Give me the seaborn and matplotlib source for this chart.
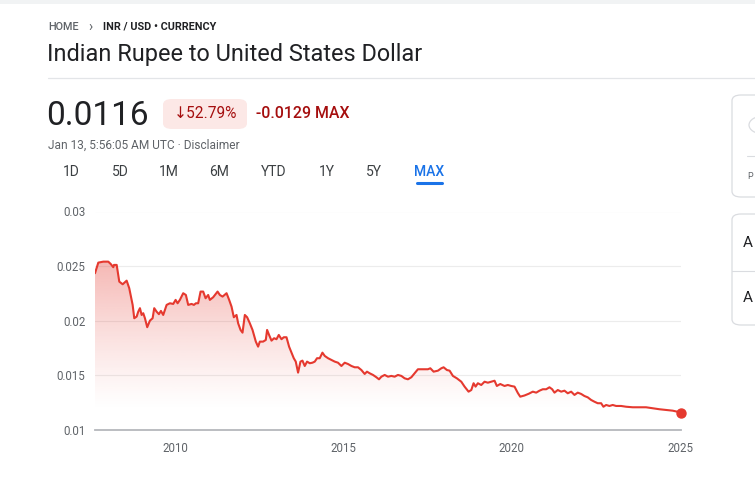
import numpy as np
import pandas as pd
import seaborn as sns
import matplotlib.pyplot as plt
from matplotlib.patches import FancyBboxPatch, Circle, Rectangle
from matplotlib.lines import Line2D

sns.set_theme(style="white")
plt.rcParams["font.family"] = ["Roboto", "DejaVu Sans"]

# INR/USD rate (decimal year, rate)
years = [
    2007.627, 2007.725, 2007.873, 2008.021, 2008.093, 2008.170, 2008.190, 2008.271,
    2008.348, 2008.449, 2008.567, 2008.644, 2008.745, 2008.793, 2008.864, 2008.911,
    2008.962, 2009.012, 2009.060, 2009.110, 2009.178, 2009.258, 2009.338, 2009.386,
    2009.457, 2009.525, 2009.585, 2009.653, 2009.754, 2009.852, 2009.950, 2010.021,
    2010.080, 2010.148, 2010.246, 2010.326, 2010.395, 2010.495, 2010.564, 2010.623,
    2010.691, 2010.762, 2010.840, 2010.911, 2010.988, 2011.038, 2011.136, 2011.267,
    2011.335, 2011.415, 2011.534, 2011.611, 2011.682, 2011.750, 2011.830, 2011.878,
    2011.949, 2012.008, 2012.077, 2012.145, 2012.225, 2012.305, 2012.403, 2012.471,
    2012.522, 2012.619, 2012.699, 2012.738, 2012.797, 2012.869, 2012.946, 2013.017,
    2013.085, 2013.165, 2013.233, 2013.314, 2013.391, 2013.492, 2013.530, 2013.589,
    2013.658, 2013.729, 2013.788, 2013.856, 2013.925, 2014.005, 2014.085, 2014.153,
    2014.221, 2014.301, 2014.381, 2014.450, 2014.548, 2014.648, 2014.746, 2014.844,
    2014.945, 2015.043, 2015.141, 2015.242, 2015.340, 2015.438, 2015.538, 2015.636,
    2015.704, 2015.785, 2015.883, 2015.983, 2016.061, 2016.132, 2016.230, 2016.328,
    2016.428, 2016.526, 2016.624, 2016.725, 2016.823, 2016.921, 2017.022, 2017.120,
    2017.217, 2017.366, 2017.514, 2017.585, 2017.683, 2017.811, 2017.912, 2017.980,
    2018.078, 2018.158, 2018.256, 2018.374, 2018.505, 2018.603, 2018.721, 2018.802,
    2018.870, 2018.929, 2018.997, 2019.098, 2019.196, 2019.294, 2019.395, 2019.493,
    2019.561, 2019.662, 2019.789, 2019.887, 2019.988, 2020.086, 2020.184, 2020.255,
    2020.383, 2020.510, 2020.629, 2020.730, 2020.828, 2020.926, 2021.026, 2021.124,
    2021.204, 2021.273, 2021.371, 2021.471, 2021.569, 2021.667, 2021.768, 2021.866,
    2021.964, 2022.065, 2022.163, 2022.260, 2022.361, 2022.459, 2022.557, 2022.658,
    2022.726, 2022.806, 2022.904, 2023.002, 2023.103, 2023.251, 2023.400, 2023.595,
    2023.794, 2023.993, 2024.189, 2024.388, 2024.586, 2024.782, 2025.030,
]
rates = [
    0.02435, 0.02532, 0.02541, 0.02541, 0.02520, 0.02490, 0.02511, 0.02511,
    0.02358, 0.02334, 0.02367, 0.02298, 0.02145, 0.02023, 0.02038, 0.02083,
    0.02115, 0.02053, 0.02069, 0.02023, 0.01941, 0.02001, 0.02023, 0.02115,
    0.02083, 0.02060, 0.02090, 0.02053, 0.02145, 0.02160, 0.02154, 0.02191,
    0.02160, 0.02191, 0.02252, 0.02236, 0.02145, 0.02154, 0.02145, 0.02160,
    0.02160, 0.02267, 0.02267, 0.02206, 0.02236, 0.02191, 0.02215, 0.02267,
    0.02236, 0.02221, 0.02252, 0.02191, 0.02129, 0.02032, 0.02053, 0.01977,
    0.01916, 0.01891, 0.02053, 0.02032, 0.01977, 0.01916, 0.01809, 0.01763,
    0.01809, 0.01809, 0.01824, 0.01916, 0.01870, 0.01818, 0.01840, 0.01831,
    0.01870, 0.01831, 0.01849, 0.01849, 0.01763, 0.01687, 0.01657, 0.01626,
    0.01525, 0.01626, 0.01635, 0.01586, 0.01626, 0.01611, 0.01616, 0.01626,
    0.01657, 0.01657, 0.01708, 0.01678, 0.01657, 0.01641, 0.01626, 0.01616,
    0.01586, 0.01616, 0.01604, 0.01586, 0.01574, 0.01574, 0.01549, 0.01513,
    0.01534, 0.01519, 0.01504, 0.01483, 0.01464, 0.01488, 0.01504, 0.01488,
    0.01495, 0.01488, 0.01504, 0.01495, 0.01473, 0.01464, 0.01483, 0.01519,
    0.01556, 0.01556, 0.01556, 0.01565, 0.01534, 0.01543, 0.01565, 0.01574,
    0.01549, 0.01543, 0.01495, 0.01473, 0.01442, 0.01397, 0.01351, 0.01366,
    0.01428, 0.01397, 0.01428, 0.01412, 0.01442, 0.01433, 0.01442, 0.01451,
    0.01403, 0.01421, 0.01403, 0.01412, 0.01403, 0.01397, 0.01339, 0.01305,
    0.01316, 0.01332, 0.01351, 0.01342, 0.01360, 0.01373, 0.01373, 0.01391,
    0.01373, 0.01342, 0.01366, 0.01351, 0.01360, 0.01336, 0.01351, 0.01321,
    0.01342, 0.01330, 0.01311, 0.01299, 0.01275, 0.01259, 0.01245, 0.01245,
    0.01213, 0.01229, 0.01220, 0.01229, 0.01220, 0.01220, 0.01213, 0.01208,
    0.01208, 0.01208, 0.01199, 0.01190, 0.01183, 0.01177, 0.0116,
]
y_ticks = [0.01, 0.015, 0.02, 0.025, 0.03]
y_tick_labels = ["0.01", "0.015", "0.02", "0.025", "0.03"]
x_ticks = [2010, 2015, 2020, 2025]
tabs = ["1D", "5D", "1M", "6M", "YTD", "1Y", "5Y", "MAX"]
tab_x = [71, 120, 169, 219, 274, 327, 374, 429]

df = pd.DataFrame({"year": years, "rate": rates})

W, H = 755, 479
fig = plt.figure(figsize=(W / 100, H / 100), dpi=100)
fig.patch.set_facecolor("white")


def px(x, y):
    # pixel position (from top-left) -> figure fraction
    return x / W, 1 - y / H


RED = "#e5392f"
GREY = "#5f6368"
DARK = "#202124"

# chart
ax = fig.add_axes([95 / W, (H - 430) / H, 586 / W, 218.5 / H])
sns.lineplot(data=df, x="year", y="rate", ax=ax, color=RED, linewidth=1.5, zorder=4)
ax.scatter([years[-1]], [rates[-1]], s=42, color=RED, zorder=5, clip_on=False)

# gradient fill under the line
poly = ax.fill_between(df["year"], df["rate"], 0.01, color="none", linewidth=0)
ymax_fill = max(rates)
alpha = np.clip((np.linspace(0.01, ymax_fill, 256) - 0.0118) / (ymax_fill - 0.0118), 0, 1) ** 1.2 * 0.36
img = np.zeros((256, 1, 4))
img[:, 0, 0] = 0xe5 / 255
img[:, 0, 1] = 0x39 / 255
img[:, 0, 2] = 0x2f / 255
img[:, 0, 3] = alpha
im = ax.imshow(img, extent=[years[0], years[-1], 0.01, ymax_fill], aspect="auto",
               origin="lower", zorder=2, interpolation="bilinear")
im.set_clip_path(poly.get_paths()[0], transform=ax.transData)

ax.set_xlim(years[0], years[-1])
ax.set_ylim(0.01, 0.03)
ax.set_yticks(y_ticks)
ax.set_yticklabels(y_tick_labels)
ax.set_xticks(x_ticks)
ax.set_xticklabels([str(t) for t in x_ticks])
ax.set_xlabel("")
ax.set_ylabel("")
for v in y_ticks[1:]:
    ax.axhline(v, color="#ececec", linewidth=0.8, zorder=1)
for s in ["top", "right", "left"]:
    ax.spines[s].set_visible(False)
ax.spines["bottom"].set_color("#b5b8bc")
ax.spines["bottom"].set_linewidth(1.3)
ax.tick_params(axis="y", length=0, pad=7, labelsize=8.3, labelcolor=GREY)
ax.tick_params(axis="x", length=4, width=1.3, color="#3c4043", direction="out",
               pad=5, labelsize=8.3, labelcolor=GREY)
ax.set_facecolor("none")

# page decorations
fig.add_artist(Rectangle((0, 1 - 4 / H), 1, 4 / H, transform=fig.transFigure,
                         facecolor="#f1f3f4", edgecolor="none"))
fig.add_artist(Line2D([48 / W, 1], [1 - 78 / H] * 2, transform=fig.transFigure,
                      color="#e3e5e8", linewidth=0.9))

fig.text(*px(48, 27), "HOME", fontsize=7.8, color=GREY, weight="medium", va="center")
fig.text(*px(88, 27), "›", fontsize=10, color=GREY, va="center")
fig.text(*px(103, 27), "INR / USD • CURRENCY", fontsize=7.8, color=DARK,
         weight="bold", va="center")
fig.text(*px(47, 54), "Indian Rupee to United States Dollar", fontsize=16.9,
         color=DARK, va="center")

fig.text(*px(46, 116), "0.0116", fontsize=24, color=DARK, va="center")
fig.add_artist(FancyBboxPatch((163 / W, 1 - 129 / H), 84 / W, 30 / H,
                              boxstyle="round,pad=0,rounding_size=0.012",
                              transform=fig.transFigure, facecolor="#fce8e6",
                              edgecolor="none"))
fig.text(*px(206, 114), "↓52.79%", fontsize=11.2, color="#a50e0e", ha="center",
         va="center", family=["Roboto", "DejaVu Sans"])
fig.text(*px(256, 113), "-0.0129 MAX", fontsize=11.4, color="#a50e0e",
         weight="medium", va="center")
fig.text(*px(48, 145), "Jan 13, 5:56:05 AM UTC · Disclaimer", fontsize=8.6,
         color=GREY, va="center")

for t, x in zip(tabs, tab_x):
    fig.text(*px(x, 172), t, fontsize=10, ha="center", va="center",
             color="#1a73e8" if t == "MAX" else "#3c4043",
             weight="medium" if t == "MAX" else "normal")
fig.add_artist(Line2D([417 / W, 442 / W], [1 - 183 / H] * 2, transform=fig.transFigure,
                      color="#1a73e8", linewidth=2.2, solid_capstyle="round"))

# cards on the right edge
for y0, y1 in [(95, 197), (214, 325)]:
    fig.add_artist(FancyBboxPatch((732 / W, 1 - y1 / H), 60 / W, (y1 - y0) / H,
                                  boxstyle="round,pad=0,rounding_size=0.012",
                                  transform=fig.transFigure, facecolor="white",
                                  edgecolor="#dadce0", linewidth=0.9))
fig.add_artist(Circle(px(763, 125), 14 / W, transform=fig.transFigure,
                      facecolor="none", edgecolor="#dadce0", linewidth=0.9))
fig.add_artist(Line2D([747 / W, 1], [1 - 156 / H] * 2, transform=fig.transFigure,
                      color="#dadce0", linewidth=0.8))
fig.text(*px(747, 177), "P", fontsize=6.5, color=GREY, va="center")
fig.add_artist(Line2D([732 / W, 1], [1 - 271 / H] * 2, transform=fig.transFigure,
                      color="#dadce0", linewidth=0.8))
fig.text(*px(743, 243), "A", fontsize=11, color=DARK, va="center")
fig.text(*px(743, 298), "A", fontsize=11, color=DARK, va="center")

fig.savefig("out.png", dpi=100)
